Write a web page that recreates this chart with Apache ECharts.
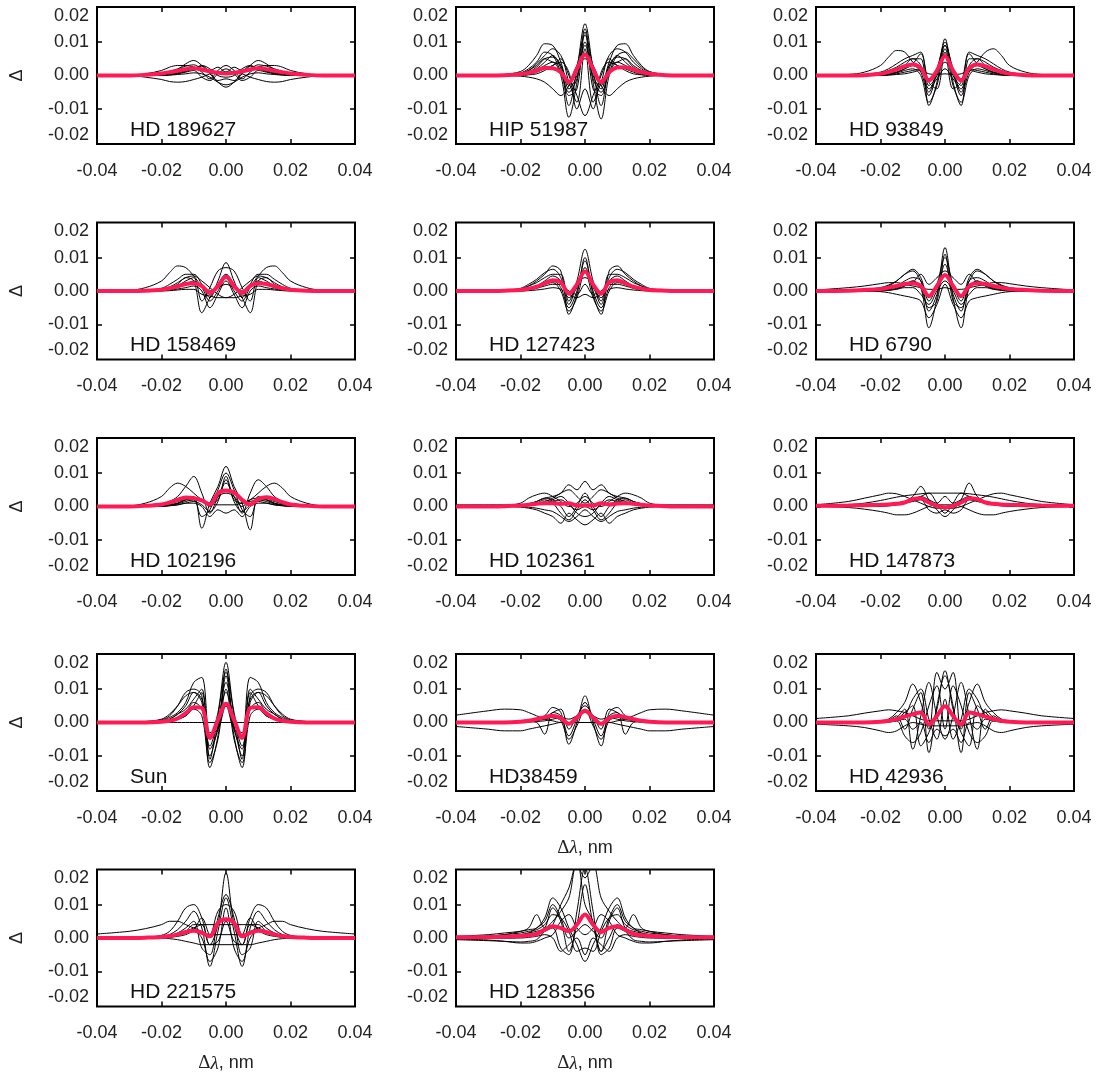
<!DOCTYPE html>
<html><head><meta charset="utf-8">
<script src="https://cdn.jsdelivr.net/npm/echarts@6/dist/echarts.min.js"></script>
<style>html,body{margin:0;padding:0;background:#fff}#c{width:1101px;height:1072px}</style>
</head><body><div id="c"></div>
<script>
// x values in units of 1e-3 nm (Δλ), y values in units of 1e-3 (Δ)
const xs = [-40,-30,-25,-20, -17.5,-15,-12.5,-10,-7.5,-5,-2.5,0,2.5,5,7.5,10,12.5,15,17.5, 20,25,30,40];
const xTickValues = [-40,-20,0,20,40];
const xTickLabels = ['-0.04','-0.02','0.00','0.02','0.04'];
const xTickMarks = [-20,0,20];
const yTickValues = [-20.5,-10,0,10,20.5];
const yTickLabels = ['-0.02','-0.01','0.00','0.01','0.02'];
const yTickMarks = [-10,0,10];
const starNames = ['HD 189627','HIP 51987','HD 93849','HD 158469','HD 127423','HD 6790','HD 102196','HD 102361','HD 147873','Sun','HD38459','HD 42936','HD 221575','HD 128356'];

const red_HD189627 = [0,0,0.2,0.6, 1.0,1.4,1.9,2.2,1.8,1.2,0.8,0.6,0.8,1.2,1.8,2.2,1.9,1.4,1.0, 0.6,0.2,0,0];
const black_HD189627 = [
 [0,0,0.5,1.5, 2.5,3,3,2.5,2,1.5,1,1,1,1.5,2,2.5,3,3,2.5, 1.5,0.5,0,0],
 [0,0,-0.5,-1.2, -1.8,-2,-1.8,-1.2,-0.5,0.5,1,0.5,1,0.5,-0.5,-1.2,-1.8,-2,-1.8, -1.2,-0.5,0,0],
 [0,0,0,0.3, 0.8,1.8,3.5,4.5,3,0.5,-2,-3.5,-2,0.5,3,4.5,3.5,1.8,0.8, 0.3,0,0,0],
 [0,0,0,0.2, 0.5,1,2,2.5,1,-1,1.5,3,1.5,-1,1,2.5,2,1,0.5, 0.2,0,0,0],
 [0,0,0,0.1, 0.3,0.8,1.5,2,2.8,1,-1.5,-1,-1.5,1,2.8,2,1.5,0.8,0.3, 0.1,0,0,0],
 [0,0,0,0, 0.2,0.5,1,1.5,-0.5,-1.5,0.5,2,0.5,-1.5,-0.5,1.5,1,0.5,0.2, 0,0,0,0],
 [0,0,0,0.1, 0.3,0.6,1.2,2,3,2,0,-0.5,0,2,3,2,1.2,0.6,0.3, 0.1,0,0,0],
 [0,0,0,0, 0.1,0.3,0.5,0.8,0.5,-0.5,-2,-2.8,-2,-0.5,0.5,0.8,0.5,0.3,0.1, 0,0,0,0],
 [0,0,0.2,0.6, 1.2,2,2.8,3.2,2,1.5,2.5,1,2.5,1.5,2,3.2,2.8,2,1.2, 0.6,0.2,0,0]
];
const red_HIP51987 = [0,0,0.1,0.4, 0.8,1.5,2.3,2.2,1.0,-2.0,2.0,6.3,2.0,-2.0,1.0,2.4,2.5,1.8,1.0, 0.5,0.1,0,0];
const black_HIP51987 = [
 [0,0,0.3,1.2, 3,6,9.5,9,4,-3,3,12,3,-3,4,9,9.5,6,3, 1.2,0.3,0,0],
 [0,0,0.1,0.5, 1.5,3.5,6,8,6,0,-6,-12,-6,0,6,8,7,4,2, 0.6,0.1,0,0],
 [0,0,0,0.3, 0.8,2,4,6,2,-9,2,15.5,2,-9,2,6,4,2,0.8, 0.3,0,0,0],
 [0,0,0,0.2, 0.6,1.5,3,4,0,-12.5,-2,14,-2,-13,0,4,3,1.5,0.6, 0.2,0,0,0],
 [0,0,0.2,0.8, 2,4,7,6,1,-5,-1,10,-1,-5,1,6,7,5,2.5, 1,0.2,0,0],
 [0,0,0,0.1, 0.3,1,2,3,5,-2,-8,8,-8,-2,5,3,2,1,0.3, 0.1,0,0,0],
 [0,0,0,-0.2, -0.5,-1,-2,-4,-6,-3,3,5,3,-3,-6,-4,-2,-1,-0.5, -0.2,0,0,0],
 [0,0,0,0.3, 1,2.5,5,5.5,3,-6,-4,13,-4,-6,3,5.5,5,2.5,1, 0.3,0,0,0],
 [0,0,0,0, 0.2,0.5,1.5,3,4,1,-10,-4,-10,1,4,3,1.5,0.5,0.2, 0,0,0,0],
 [0,0,0.2,0.6, 1.5,3,5,4,3,-4,0,9,0,-4,3,4,5,3,1.5, 0.6,0.2,0,0]
];
const red_HD93849 = [0,0,0.1,0.5, 1.0,1.8,2.8,3.3,2.2,-1.5,1.5,5.8,1.5,-1.5,2.2,3.3,2.8,1.8,1.0, 0.5,0.1,0,0];
const black_HD93849 = [
 [0,0.3,1,3, 5.5,7.5,7,4,2,-1,1,4,1,-1,2,4,7,8,6, 3,1,0.3,0],
 [0,0,0.3,1, 2,3.5,5,6,7,-3,0,9,0,-3,7,6,5,3.5,2, 1,0.3,0,0],
 [0,0,0,0.3, 0.8,1.5,3,5,5,-9,-2,11,-2,-9,5,5,3,1.5,0.8, 0.3,0,0,0],
 [0,0,0,0.2, 0.5,1,2,3,1,-6,1,10,1,-6,1,3,2,1,0.5, 0.2,0,0,0],
 [0,0,0,0.1, 0.3,0.8,1.5,2,0,-8,-3,8,-3,-8,0,2,1.5,0.8,0.3, 0.1,0,0,0],
 [0,0,0,0, 0.2,0.5,1,1.5,2,-4,-1,2,-1,-4,2,1.5,1,0.5,0.2, 0,0,0,0],
 [0,0,0.2,0.6, 1.5,2.5,4,5,3,-5,2,9,2,-5,3,5,4,2.5,1.5, 0.6,0.2,0,0],
 [0,0,0,0, 0.1,0.3,0.5,1,1.5,0.5,0.3,0.5,0.3,0.5,1.5,1,0.5,0.3,0.1, 0,0,0,0],
 [0,0,0,0.2, 0.5,1,2,3.5,6.5,-2,-4,7,-4,-2,6.5,3.5,2,1,0.5, 0.2,0,0,0]
];
const red_HD158469 = [0,0,0.1,0.4, 0.8,1.4,2.1,2.3,1.5,-0.6,1.5,4.3,1.5,-0.6,1.5,2.3,2.1,1.4,0.8, 0.4,0.1,0,0];
const black_HD158469 = [
 [0,0.2,1,3, 5.5,7.5,7,4.5,1.5,0,1,2,1,0,1.5,4.5,7,7.5,5.5, 3,1,0.2,0],
 [0,0,0.2,0.8, 2,3.5,5,5,2,-2,3,8.5,3,-2,2,5,5,3.5,2, 0.8,0.2,0,0],
 [0,0,0,0.3, 0.8,2,4,3,-6.5,-2,2,5,2,-2,-6.5,3,4,2,0.8, 0.3,0,0,0],
 [0,0,0,0.2, 0.6,1.5,3,4,-3,1,6,7,6,1,-3,4,3,1.5,0.6, 0.2,0,0,0],
 [0,0,0,0, 0.1,0.3,0.5,0.5,-1,-1.5,-2,-2,-2,-1.5,-1,0.5,0.5,0.3,0.1, 0,0,0,0],
 [0,0,0.1,0.5, 1.2,2.5,4,4.5,3,1,-1,-2,-1,1,3,4.5,4,2.5,1.2, 0.5,0.1,0,0],
 [0,0,0,0.2, 0.5,1,2,3,1,-3,0,4,0,-3,1,3,2,1,0.5, 0.2,0,0,0],
 [0,0,0,0.1, 0.3,0.6,1,1.5,0,-5,-1,3,-1,-5,0,1.5,1,0.6,0.3, 0.1,0,0,0]
];
const red_HD127423 = [0,0,0.1,0.3, 0.7,1.3,2.3,3.2,2.6,-0.8,2,5.8,2,-0.8,2.6,3.2,2.3,1.3,0.7, 0.3,0.1,0,0];
const black_HD127423 = [
 [0,0,0.2,0.8, 2,3.5,5.5,6.5,4,-4,3,12.5,3,-4,4,6.5,5.5,3.5,2, 0.8,0.2,0,0],
 [0,0,0.1,0.5, 1.5,3,5,7.5,6,-7,-1,10,-1,-7,6,7.5,5,3,1.5, 0.5,0.1,0,0],
 [0,0,0,0.2, 0.6,1.5,3,4.5,3,-2,1,7,1,-2,3,4.5,3,1.5,0.6, 0.2,0,0,0],
 [0,0,0,0.2, 0.5,1,2,3,1,-5,0,9,0,-5,1,3,2,1,0.5, 0.2,0,0,0],
 [0,0,0,0.1, 0.3,0.8,1.5,2,2,0,-1,2,-1,0,2,2,1.5,0.8,0.3, 0.1,0,0,0],
 [0,0,0.2,0.6, 1.5,2.5,4,5,5,-3,2,4,2,-3,5,5,4,2.5,1.5, 0.6,0.2,0,0],
 [0,0,0,0.1, 0.4,1,2,2.5,0,-6,-2,6,-2,-6,0,2.5,2,1,0.4, 0.1,0,0,0],
 [0,0,0,0, 0.1,0.3,0.6,1,0.5,-1,-2,-1,-2,-1,0.5,1,0.6,0.3,0.1, 0,0,0,0]
];
const red_HD6790 = [0,0.1,0.3,0.6, 1,1.5,2.1,2.3,1.5,-1.5,1.5,4.8,1.5,-1.5,1.5,2.3,2.1,1.5,1, 0.6,0.3,0.1,0];
const black_HD6790 = [
 [0.3,1,1.5,2.2, 2.5,2.5,2,1.5,1,0.5,0.5,1,0.5,0.5,1,1.5,2,2.5,2.5, 2.2,1.5,1,0.3],
 [0,0.1,0.3,0.8, 1.5,3,5,6.5,4,-3,2,10,2,-3,4,6.5,5,3,1.5, 0.8,0.3,0.1,0],
 [0,0,0,0.2, 0.5,1,2,3,1,-11,-2,13,-2,-11,1,3,2,1,0.5, 0.2,0,0,0],
 [0,0,0.1,0.3, 0.8,1.5,3,4,3,-6,-1,8,-1,-6,3,4,3,1.5,0.8, 0.3,0.1,0,0],
 [0,0,0,-0.2, -0.5,-1,-1.5,-2,-3,-8,-4,2,-4,-8,-3,-2,-1.5,-1,-0.5, -0.2,0,0,0],
 [0,0,0,0.1, 0.3,0.8,1.5,2.5,5,2,4,6,4,2,5,2.5,1.5,0.8,0.3, 0.1,0,0,0],
 [0,0,0,0, 0.2,0.5,1,1,-1,-4,0,3,0,-4,-1,1,1,0.5,0.2, 0,0,0,0],
 [0,0,0,0.1, 0.3,0.6,1.5,3,1,-5,-3,11,-3,-5,1,3,1.5,0.6,0.3, 0.1,0,0,0],
 [0,0.2,0.5,1, 1.8,3,5,6,3,-2,1,5,1,-2,3,6,5,3,1.8, 1,0.5,0.2,0]
];
const red_HD102196 = [0,0,0.2,0.6, 1.2,2,2.7,2.5,1.8,0.6,4,4.8,4.2,2,0.6,2.2,2.8,2.2,1.3, 0.6,0.2,0,0];
const black_HD102196 = [
 [0,0.2,1,3, 5.5,7,6,4,2,1,0.5,0.5,0.5,1,2,4,6,7,5.5, 3,1,0.2,0],
 [0,0,0.2,0.6, 1.5,3,6,9,4,-2,3,7,3,-2,4,8,6,3,1.5, 0.6,0.2,0,0],
 [0,0,0,0.2, 0.5,1,2,3,-6.5,1,6,12,6,1,-7,3,2,1,0.5, 0.2,0,0,0],
 [0,0,0,0.1, 0.3,0.8,1.5,2,-3,-1,5,10,5,-1,-3,2,1.5,0.8,0.3, 0.1,0,0,0],
 [0,0,0.1,0.3, 0.8,1.5,2,2,1.5,1,2,8,2,1,1.5,2,2,1.5,0.8, 0.3,0.1,0,0],
 [0,0,0,0.1, 0.3,0.5,1,1,0,-3,-1,-2,-1,-3,0,1,1,0.5,0.3, 0.1,0,0,0],
 [0,0,0,0.2, 0.5,1,2,2.5,2,0,3,4,3,0,2,2.5,2,1,0.5, 0.2,0,0,0],
 [0,0,0,0, 0.2,0.5,1,1.5,0.5,-1.5,1.5,9,1.5,-1.5,0.5,1.5,1,0.5,0.2, 0,0,0,0]
];
const red_HD102361 = [0,0,0.1,0.3, 0.5,0.8,1,1,0.8,1,0.3,0.3,0.3,1,0.6,0.9,1,0.8,0.5, 0.3,0.1,0,0];
const black_HD102361 = [
 [0,0,0.2,1, 2.5,3.5,4,3,1.5,0,1,3,1,0,1.5,3,4,3.5,2.5, 1,0.2,0,0],
 [0,0,0,0.3, 0.8,1.5,2.5,3,4,6.5,5,7.5,5,6.5,4,3,2.5,1.5,0.8, 0.3,0,0,0],
 [0,0,0,-0.2, -0.5,-1,-2,-3,-5,-2,-4,-5.5,-4,-2,-5,-3,-2,-1,-0.5, -0.2,0,0,0],
 [0,0,0,0.2, 0.5,1,2,1,-2,-4,-1,2,-1,-4,-2,1,2,1,0.5, 0.2,0,0,0],
 [0,0,0,0.1, 0.3,0.6,1,2,3,1,-2,-3,-2,1,3,2,1,0.6,0.3, 0.1,0,0,0],
 [0,0,0.1,0.3, 0.8,1.5,2.5,2,0,-3,0,4,0,-3,0,2,2.5,1.5,0.8, 0.3,0.1,0,0],
 [0,0,0,0, -0.2,-0.5,-1,-1.5,-3,-4.5,-3,-1,-3,-4.5,-3,-1.5,-1,-0.5,-0.2, 0,0,0,0],
 [0,0,0,0.1, 0.3,0.8,1.5,2.5,4,5,3,1,3,5,4,2.5,1.5,0.8,0.3, 0.1,0,0,0],
 [0.5,0.5,0.5,0.5, 0.6,0.8,1,1.5,2,0.5,-1,0,-1,0.5,2,1.5,1,0.8,0.6, 0.5,0.5,0.5,0.5]
];
const red_HD147873 = [0.2,0.3,0.4,0.5, 0.6,0.8,1.2,2.2,2.5,1.2,0.2,-0.3,0.2,1.2,2.5,2.2,1.2,0.8,0.6, 0.5,0.4,0.3,0.2];
const black_HD147873 = [
 [0.5,1.5,2.5,3.5, 4,3.8,3,2,1,0,-0.5,-0.5,-0.5,0,1,2,3,3.8,4, 3.5,2.5,1.5,0.5],
 [0.2,0.5,1,1.8, 2.3,2.8,3.2,3.5,3.8,4,4,4,4,4,3.8,3.5,3.2,2.8,2.3, 1.8,1,0.5,0.2],
 [0,-0.3,-0.8,-1.5, -2,-2.5,-2.5,-2,-1,0,0.5,0.5,0.5,0,-1,-2,-2.5,-2.5,-2, -1.5,-0.8,-0.3,0],
 [0,0,0,0.2, 0.5,1,1.5,3,6,2,-1,-3,-1,2,7,3,1.5,1,0.5, 0.2,0,0,0],
 [0,0,0,0.1, 0.3,0.6,1,2,3,4,1,-2,1,4,3,2,1,0.6,0.3, 0.1,0,0,0],
 [0,0,0,0.1, 0.2,0.5,1,1.5,2,-1,-2,-1,-2,-1,2,1.5,1,0.5,0.2, 0.1,0,0,0],
 [0.3,0.4,0.5,0.6, 0.8,1,1.5,2,3,2,1,3,1,2,3,2,1.5,1,0.8, 0.6,0.5,0.4,0.3]
];
const red_Sun = [0,0,0,0.2, 0.5,1.2,2.8,4.6,4.4,-4.6,0.8,5.6,0.8,-4.6,4.4,4.6,2.8,1.2,0.5, 0.2,0,0,0];
const black_Sun = [
 [0,0,0.1,0.5, 1.5,3,6,12,13.5,-5,3,18,3,-5,13.5,12,6,3,1.5, 0.5,0.1,0,0],
 [0,0,0.2,0.8, 2,5,9,10,8,-13.5,-4,14,-4,-13.5,8,10,9,5,2, 0.8,0.2,0,0],
 [0,0,0,0.3, 1,2.5,5,9,6,-10,-1,12,-1,-10,6,9,5,2.5,1, 0.3,0,0,0],
 [0,0,0,0.2, 0.6,1.5,3,6,4,-7,1,9,1,-7,4,6,3,1.5,0.6, 0.2,0,0,0],
 [0,0,0.3,1, 2.5,5,8,9,7,-3,-2,5,-2,-3,7,9,8,5,2.5, 1,0.3,0,0],
 [0,0,0,0.2, 0.5,1,2,4,2,-12,-5,10,-5,-12,2,4,2,1,0.5, 0.2,0,0,0],
 [0,0,0,0, 0,0,0,0,0,0,0,0,0,0,0,0,0,0,0, 0,0,0,0],
 [0,0,0,0.1, 0.4,1,2,5,9,-8,-2,16,-2,-8,9,5,2,1,0.4, 0.1,0,0,0],
 [0,0,0.1,0.4, 1,2.5,4,7,10,-11,2,15,2,-11,10,7,4,2.5,1, 0.4,0.1,0,0]
];
const red_HD38459 = [0,0,0,0.2, 0.5,1,1.6,2,1.3,-0.4,1.5,3.5,1.5,-0.4,1.3,2,1.6,1,0.5, 0.2,0,0,0];
const black_HD38459 = [
 [2.2,3.5,4,3.8, 3,2,1,0.5,0,0,0,0,0,0,0,0.5,1,2,3, 3.8,4,3.5,2.2],
 [-1.2,-2,-2.5,-2.5, -2,-1.5,-1,-0.5,0,0,0,0,0,0,0,-0.5,-1,-1.5,-2, -2.5,-2.5,-2,-1.2],
 [0,0,0,0.2, 0.5,1,2,4.5,3,-6.5,0,8,0,-7,3,4.5,2,1,0.5, 0.2,0,0,0],
 [0,0,0,0.1, 0.3,0,-3.5,3,2,-4,1,6,1,-4,2,3,-3.5,0,0.3, 0.1,0,0,0],
 [0,0,0,0.1, 0.3,0.8,1.5,3,4,-2,2,5,2,-2,4,3,1.5,0.8,0.3, 0.1,0,0,0],
 [0,0,0,0.1, 0.2,0.5,1,1.5,0.5,-5,-1,4,-1,-5,0.5,1.5,1,0.5,0.2, 0.1,0,0,0],
 [0,0,0,0, 0.1,0.3,0.5,1,1.5,1,2,3,2,1,1.5,1,0.5,0.3,0.1, 0,0,0,0]
];
const red_HD42936 = [0,0,0,0.2, 0.5,1,1.8,2.5,3.0,-0.6,2,4.9,2,-0.6,3,2.5,1.8,1,0.5, 0.2,0,0,0];
const black_HD42936 = [
 [1.2,2,2.8,3.5, 3.8,3.5,3,2,1,0.5,0.5,0.5,0.5,0.5,1,2,3,3.5,3.8, 3.5,2.8,2,1.2],
 [-0.5,-1,-1.5,-2.5, -3,-2.5,-1,0,-0.5,-1,-1,-1,-1,-1,-0.5,0,-1,-2.5,-3, -2.5,-1.5,-1,-0.5],
 [0,0,0,0.3, 1,3,6,11.5,6,-2,15,10,15,-2,6,11.5,6,3,1, 0.3,0,0,0],
 [0,0,0,0.2, 0.6,2,-2,4,9,-9,5,14,5,-9,9,4,-2,2,0.6, 0.2,0,0,0],
 [0,0,0,0.1, 0.5,1.5,4,-8,2,12,2,-5,2,12,2,-8,4,1.5,0.5, 0.1,0,0,0],
 [0,0,0,0.2, 0.5,1,2,7,10,1,-5,7,-5,1,10,7,2,1,0.5, 0.2,0,0,0],
 [0,0,0,0, 0.2,0.5,-4,-6,-3,5,11,-2,11,5,-3,-6,-4,0.5,0.2, 0,0,0,0],
 [0,0,0,0.1, 0.3,1,3,5,-7,-3,4,15.5,4,-3,-7,5,3,1,0.3, 0.1,0,0,0],
 [0,0,0,0, 0.1,0.5,1,-2,0,-6,-2,-4,-2,-6,0,-2,1,0.5,0.1, 0,0,0,0]
];
const red_HD221575 = [0,0,0.1,0.3, 0.6,1.1,1.8,2.2,1.5,0.5,4.5,5.6,4.5,0.5,1.5,2.2,1.8,1.1,0.6, 0.3,0.1,0,0];
const black_HD221575 = [
 [1.2,2,2.8,4, 5,5,4,3,2,1,1,1,1,1,2,3,4,5,5, 4,2.8,2,1.2],
 [0,0,0.2,0.8, 2,5,9,10,6,-2,4,19.5,4,-2,6,10,9,5,2, 0.8,0.2,0,0],
 [0,0,0,0.3, 1,2.5,5,8,3,-8.5,2,12,2,-8.5,3,8,5,2.5,1, 0.3,0,0,0],
 [0,0,0,0.2, 0.6,1.5,3,5,-3,-5,6,13,6,-5,-3,5,3,1.5,0.6, 0.2,0,0,0],
 [0,0,0,0.1, 0.4,1,2,3,4,-2,-1,5,-1,-2,4,3,2,1,0.4, 0.1,0,0,0],
 [0,0,0,0, 0.2,0.5,1,2,0,-7,-3,9,-3,-7,0,2,1,0.5,0.2, 0,0,0,0],
 [0,0,0,0, -0.2,-0.5,-1,-1.5,-2,-2,-2,-2,-2,-2,-2,-1.5,-1,-0.5,-0.2, 0,0,0,0],
 [0,0,0,0.1, 0.5,1,2,4,4,4,4,4,4,4,4,4,2,1,0.5, 0.1,0,0,0],
 [0,0,0,0.1, 0.3,0.8,1.5,2.5,6,1,8,10,8,1,6,2.5,1.5,0.8,0.3, 0.1,0,0,0]
];
const red_HD128356 = [0.2,0.3,0.4,0.6, 0.8,1.2,2.5,3.5,3,2,4,7,4,1.8,3,3.5,2.5,1.2,0.8, 0.6,0.4,0.3,0.2];
const black_HD128356 = [
 [0,0.5,1,2, 3,7,3,5,8,12,22,18,22,12,8,5,3,7,3, 2,1,0.5,0],
 [0.5,1,1.5,2, 2.5,3,6,12,9,3,-2,-7,-2,3,9,12,6,3,2.5, 2,1.5,1,0.5],
 [-0.5,-0.8,-1,-1.2, -1,-0.5,2,4,10,15,23,10,5,-4,0,4,2,-0.5,-1, -1.2,-1,-0.8,-0.5],
 [0,0.3,0.6,1, 1.5,2,3,9,5,-4,4,16,4,-4,5,9,3,2,1.5, 1,0.6,0.3,0],
 [0.3,0.6,1,1.5, 2,2.5,4,7,6,2,-4,-3,-4,2,6,7,4,2.5,2, 1.5,1,0.6,0.3],
 [0,0,0,0.2, 0.5,1,2,3,-3,-5,8,21,8,-5,-3,3,2,1,0.5, 0.2,0,0,0],
 [-0.3,-0.6,-1,-1.5, -1.5,-1,0,1,5,7,3,1,3,7,5,1,0,-1,-1.5, -1.5,-1,-0.6,-0.3],
 [0,0.2,0.5,1, 1.5,3,5,10,6,0,2,4,2,0,6,10,5,3,1.5, 1,0.5,0.2,0],
 [0,0,0,0, 0.2,0.5,1,0,-4,-2,0,-5,0,-2,-4,0,1,0.5,0.2, 0,0,0,0]
];

const reds = [red_HD189627, red_HIP51987, red_HD93849, red_HD158469, red_HD127423, red_HD6790, red_HD102196, red_HD102361, red_HD147873, red_Sun, red_HD38459, red_HD42936, red_HD221575, red_HD128356];
const blacks = [black_HD189627, black_HIP51987, black_HD93849, black_HD158469, black_HD127423, black_HD6790, black_HD102196, black_HD102361, black_HD147873, black_Sun, black_HD38459, black_HD42936, black_HD221575, black_HD128356];

// ---- layout ----
const colLeft = [97, 456, 816];
const rowTop = [7, 222.5, 438, 654, 869.5];
const W = 258, H = 137;
const SANS = '"Liberation Sans", Arial, Helvetica, sans-serif';
const SERIF = '"Liberation Serif", "Times New Roman", serif';
const pick = (vals, labs, v) => { const k = vals.findIndex(t => Math.abs(t - v) < 1e-6); return k >= 0 ? labs[k] : ''; };

const grids = [], xAxes = [], yAxes = [], series = [], graphics = [];
const xTitlePanels = [10, 12, 13];

starNames.forEach((name, i) => {
  const r = Math.floor(i / 3), c = i % 3;
  const L = colLeft[c], T = rowTop[r];
  grids.push({ left: L, top: T, width: W, height: H, show: true, borderColor: '#000', borderWidth: 2, backgroundColor: 'rgba(0,0,0,0)' });
  const tick = { show: true, inside: true, length: 5, lineStyle: { color: '#000', width: 1.5 } };
  const line = { show: false, onZero: false };
  xAxes.push({ gridIndex: i, type: 'value', min: -40, max: 40, position: 'bottom',
    axisLine: line, splitLine: { show: false },
    axisTick: Object.assign({ customValues: xTickMarks }, tick),
    axisLabel: { show: true, customValues: xTickValues, formatter: v => pick(xTickValues, xTickLabels, v),
      showMinLabel: true, showMaxLabel: true, margin: 18, fontSize: 18, fontFamily: SANS, color: '#222' } });
  xAxes.push({ gridIndex: i, type: 'value', min: -40, max: 40, position: 'top',
    axisLine: line, splitLine: { show: false },
    axisTick: Object.assign({ customValues: xTickMarks }, tick), axisLabel: { show: false } });
  yAxes.push({ gridIndex: i, type: 'value', min: -20.5, max: 20.5, position: 'left',
    axisLine: line, splitLine: { show: false },
    axisTick: Object.assign({ customValues: yTickMarks }, tick),
    axisLabel: { show: true, customValues: yTickValues, formatter: v => pick(yTickValues, yTickLabels, v),
      showMinLabel: true, showMaxLabel: true, verticalAlignMinLabel: 'bottom', verticalAlignMaxLabel: 'top',
      margin: 8, fontSize: 18, fontFamily: SANS, color: '#222' } });
  yAxes.push({ gridIndex: i, type: 'value', min: -20.5, max: 20.5, position: 'right',
    axisLine: line, splitLine: { show: false },
    axisTick: Object.assign({ customValues: yTickMarks }, tick), axisLabel: { show: false } });

  blacks[i].forEach(arr => {
    series.push({ type: 'line', xAxisIndex: 2 * i, yAxisIndex: 2 * i, data: xs.map((x, k) => [x, arr[k]]),
      smooth: 0.35, symbol: 'none', silent: true, clip: true, z: 2,
      lineStyle: { color: '#000', width: 1 } });
  });
  series.push({ type: 'line', xAxisIndex: 2 * i, yAxisIndex: 2 * i, data: xs.map((x, k) => [x, reds[i][k]]),
    smooth: 0.35, symbol: 'none', silent: true, clip: true, z: 3,
    lineStyle: { color: '#ff1a55', width: 4 } });

  graphics.push({ type: 'text', x: L + 33, y: T + 123, z: 10,
    style: { text: name, fontSize: 21, fontFamily: SANS, fill: '#111', align: 'left', verticalAlign: 'middle' } });
  if (c === 0) {
    graphics.push({ type: 'text', x: 17, y: T + H / 2, rotation: Math.PI / 2, z: 10,
      style: { text: 'Δ', fontSize: 18, fontFamily: SANS, fill: '#222', align: 'center', verticalAlign: 'middle' } });
  }
  if (xTitlePanels.indexOf(i) >= 0) {
    graphics.push({ type: 'text', x: L + W / 2, y: T + H + 57, z: 10,
      style: { text: '{d|Δ}{l|λ}{n|, nm}', align: 'center', verticalAlign: 'middle', fill: '#222',
        rich: { d: { fontFamily: SERIF, fontSize: 19, fill: '#222' },
                l: { fontFamily: SERIF, fontStyle: 'italic', fontSize: 19, fill: '#222' },
                n: { fontFamily: SANS, fontSize: 18, fill: '#222' } } } });
  }
});

const chart = echarts.init(document.getElementById('c'), null, { renderer: 'canvas' });
chart.setOption({ animation: false, backgroundColor: '#fff', grid: grids, xAxis: xAxes, yAxis: yAxes, series: series, graphic: graphics });
</script></body></html>
